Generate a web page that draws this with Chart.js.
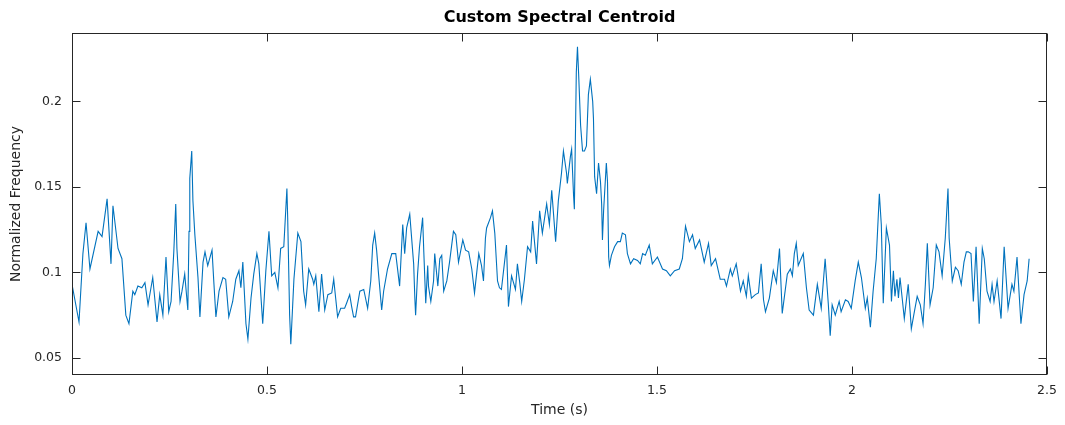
<!DOCTYPE html>
<html lang="en">
<head>
    <meta charset="utf-8">
    <title>Custom Spectral Centroid</title>
    <script src="https://cdn.jsdelivr.net/npm/chart.js"></script>
    <style>
        html, body { margin: 0; padding: 0; background: #fff; }
        #wrap { width: 1065px; height: 425px; }
    </style>
</head>
<body>
    <div id="wrap">
        <canvas id="centroidChart"></canvas>
    </div>

    <script>
        // time (s) and normalized centroid
        const times = [
            0, 0.018, 0.028, 0.036, 0.046, 0.067, 0.077, 0.090, 0.100, 0.105, 0.118, 0.128, 0.138, 0.146, 0.156, 0.161, 0.169, 0.179, 0.187, 0.195, 0.207,
            0.218, 0.225, 0.233, 0.241, 0.248, 0.254, 0.261, 0.266, 0.269, 0.277, 0.282, 0.289, 0.297, 0.300, 0.302, 0.307, 0.310, 0.315, 0.323, 0.328, 0.336, 0.341, 0.348, 0.359, 0.364, 0.369, 0.377, 0.387, 0.394, 0.402, 0.412,
            0.420, 0.428, 0.433, 0.438, 0.446, 0.451, 0.459, 0.466, 0.474, 0.479, 0.489, 0.497, 0.505, 0.512, 0.520, 0.528, 0.535, 0.543, 0.551, 0.553, 0.558, 0.561, 0.569, 0.579, 0.587, 0.594, 0.599, 0.607, 0.617, 0.620, 0.625, 0.633,
            0.640, 0.648, 0.656, 0.666, 0.671, 0.676, 0.681, 0.689, 0.699, 0.704, 0.712, 0.717, 0.722, 0.727, 0.738, 0.748, 0.758, 0.766, 0.771, 0.776, 0.781, 0.786, 0.794, 0.799, 0.809, 0.820, 0.830, 0.840, 0.848,
            0.853, 0.858, 0.866, 0.876, 0.879, 0.881, 0.886, 0.891, 0.899, 0.902, 0.907, 0.912, 0.914, 0.920, 0.927, 0.930, 0.938, 0.943, 0.948, 0.953, 0.961, 0.968, 0.978, 0.984, 0.991, 1.002, 1.009, 1.017, 1.025, 1.032, 1.043, 1.050, 1.055, 1.060,
            1.063, 1.073, 1.078, 1.084, 1.091, 1.096, 1.101, 1.112, 1.114, 1.117, 1.119, 1.127, 1.137, 1.142, 1.148, 1.153, 1.160, 1.168, 1.176, 1.181, 1.191, 1.199, 1.206, 1.217, 1.224, 1.230, 1.240, 1.247,
            1.255, 1.260, 1.268, 1.270, 1.278, 1.281, 1.286, 1.288, 1.291, 1.293, 1.296, 1.299, 1.304, 1.309, 1.314, 1.319, 1.324, 1.329, 1.335, 1.337, 1.340, 1.345, 1.350, 1.355, 1.358, 1.360, 1.363, 1.370, 1.373, 1.376, 1.378, 1.383, 1.391, 1.399, 1.406, 1.411, 1.419, 1.424, 1.432, 1.440, 1.450, 1.457, 1.463,
            1.470, 1.480, 1.488, 1.501, 1.514, 1.524, 1.534, 1.545, 1.557, 1.565, 1.573, 1.583, 1.591, 1.598, 1.609, 1.621, 1.632, 1.639, 1.650, 1.662, 1.673, 1.678,
            1.688, 1.693, 1.703, 1.714, 1.721, 1.729, 1.734, 1.742, 1.752, 1.760, 1.767, 1.773, 1.778, 1.788, 1.798, 1.806, 1.814, 1.821, 1.834, 1.842, 1.847, 1.852, 1.857, 1.862, 1.875, 1.883, 1.890,
            1.901, 1.911, 1.921, 1.931, 1.939, 1.944, 1.949, 1.957, 1.967, 1.972, 1.983, 1.990, 1.998, 2.008, 2.016, 2.024, 2.034, 2.039, 2.047, 2.054, 2.062, 2.070, 2.075, 2.080, 2.088, 2.096, 2.101,
            2.106, 2.110, 2.115, 2.119, 2.123, 2.134, 2.144, 2.152, 2.159, 2.167, 2.175, 2.182, 2.188, 2.193, 2.200, 2.208, 2.216, 2.223, 2.231, 2.239, 2.246, 2.249, 2.257, 2.265, 2.272, 2.280,
            2.287, 2.293, 2.298, 2.305, 2.311, 2.318, 2.326, 2.334, 2.339, 2.346, 2.354, 2.359, 2.364, 2.372, 2.382, 2.390, 2.400, 2.410, 2.415, 2.423, 2.428, 2.433, 2.441, 2.449, 2.454
        ];
        const centroid = [
            0.093, 0.071, 0.111, 0.129, 0.102, 0.124, 0.121, 0.143, 0.105, 0.139, 0.114, 0.108, 0.075, 0.070, 0.089, 0.087, 0.092, 0.091, 0.094, 0.081, 0.097,
            0.071, 0.087, 0.075, 0.109, 0.077, 0.083, 0.112, 0.140, 0.114, 0.083, 0.089, 0.099, 0.078, 0.124, 0.155, 0.171, 0.142, 0.122, 0.097, 0.074, 0.106, 0.112, 0.104, 0.113, 0.093, 0.074, 0.089, 0.097, 0.096, 0.074, 0.083,
            0.096, 0.101, 0.091, 0.106, 0.070, 0.061, 0.085, 0.099, 0.111, 0.105, 0.070, 0.101, 0.124, 0.098, 0.100, 0.091, 0.114, 0.115, 0.149, 0.132, 0.075, 0.058, 0.096, 0.123, 0.118, 0.089, 0.081, 0.102, 0.096, 0.093, 0.098, 0.077,
            0.099, 0.078, 0.087, 0.088, 0.096, 0.085, 0.074, 0.079, 0.079, 0.082, 0.087, 0.080, 0.074, 0.074, 0.089, 0.090, 0.079, 0.095, 0.116, 0.123, 0.113, 0.099, 0.078, 0.089, 0.102, 0.111, 0.111, 0.092, 0.128,
            0.111, 0.126, 0.134, 0.105, 0.085, 0.075, 0.099, 0.115, 0.132, 0.112, 0.082, 0.104, 0.092, 0.083, 0.095, 0.111, 0.092, 0.108, 0.110, 0.089, 0.095, 0.106, 0.124, 0.122, 0.106, 0.119, 0.113, 0.112, 0.102, 0.088, 0.111, 0.104, 0.095, 0.120,
            0.126, 0.132, 0.136, 0.123, 0.095, 0.091, 0.090, 0.112, 0.116, 0.095, 0.080, 0.098, 0.090, 0.105, 0.094, 0.083, 0.096, 0.115, 0.112, 0.130, 0.105, 0.136, 0.123, 0.140, 0.128, 0.148, 0.118, 0.142,
            0.158, 0.171, 0.158, 0.152, 0.168, 0.172, 0.145, 0.137, 0.184, 0.217, 0.232, 0.216, 0.186, 0.171, 0.171, 0.174, 0.204, 0.213, 0.200, 0.190, 0.156, 0.146, 0.164, 0.153, 0.140, 0.119, 0.136, 0.164, 0.153, 0.109, 0.104, 0.110, 0.115, 0.118, 0.118, 0.123, 0.122, 0.111, 0.105, 0.108, 0.107, 0.105, 0.111,
            0.110, 0.116, 0.105, 0.109, 0.102, 0.101, 0.098, 0.101, 0.102, 0.108, 0.127, 0.118, 0.122, 0.114, 0.119, 0.106, 0.117, 0.104, 0.108, 0.096, 0.096, 0.092,
            0.102, 0.098, 0.105, 0.089, 0.095, 0.086, 0.098, 0.085, 0.087, 0.088, 0.105, 0.084, 0.077, 0.085, 0.101, 0.094, 0.114, 0.076, 0.099, 0.102, 0.098, 0.111, 0.117, 0.104, 0.111, 0.091, 0.078,
            0.075, 0.093, 0.079, 0.108, 0.082, 0.063, 0.081, 0.075, 0.083, 0.077, 0.084, 0.083, 0.079, 0.095, 0.106, 0.097, 0.079, 0.085, 0.068, 0.089, 0.108, 0.146, 0.128, 0.082, 0.126, 0.116, 0.083,
            0.101, 0.086, 0.096, 0.085, 0.097, 0.073, 0.093, 0.067, 0.076, 0.086, 0.081, 0.070, 0.093, 0.117, 0.081, 0.091, 0.116, 0.112, 0.098, 0.120, 0.149, 0.120, 0.095, 0.103, 0.101, 0.093,
            0.106, 0.112, 0.112, 0.111, 0.083, 0.115, 0.070, 0.114, 0.108, 0.089, 0.083, 0.093, 0.083, 0.095, 0.073, 0.115, 0.079, 0.093, 0.089, 0.109, 0.089, 0.070, 0.087, 0.095, 0.108
        ];
        const xTicks = [0, 0.5, 1, 1.5, 2, 2.5];
        const yTicks = [0.05, 0.1, 0.15, 0.2];

        const axisColor = '#262626';
        const fontFamily = "'DejaVu Sans', sans-serif";

        // matlab style box with inward ticks on all four sides
        const boxPlugin = {
            id: 'boxPlugin',
            afterDatasetsDraw(chart) {
                const { ctx, chartArea: a, scales } = chart;
                const L = Math.round(a.left) + 0.5, R = Math.round(a.right) - 0.5;
                const T = Math.round(a.top) + 0.5, B = Math.round(a.bottom) - 0.5;
                const len = 8;
                ctx.save();
                ctx.strokeStyle = axisColor;
                ctx.lineWidth = 1;
                ctx.strokeRect(L, T, R - L, B - T);
                ctx.beginPath();
                scales.x.ticks.forEach(t => {
                    const px = Math.round(scales.x.getPixelForValue(t.value)) + 0.5;
                    ctx.moveTo(px, B); ctx.lineTo(px, B - len);
                    ctx.moveTo(px, T); ctx.lineTo(px, T + len);
                });
                scales.y.ticks.forEach(t => {
                    const py = Math.round(scales.y.getPixelForValue(t.value)) + 0.5;
                    ctx.moveTo(L, py); ctx.lineTo(L + len, py);
                    ctx.moveTo(R, py); ctx.lineTo(R - len, py);
                });
                ctx.stroke();
                ctx.restore();
            }
        };

        const ctx = document.getElementById('centroidChart').getContext('2d');
        const centroidChart = new Chart(ctx, {
            type: 'line',
            data: {
                datasets: [{
                    label: 'Spectral Centroid',
                    data: times.map((t, i) => ({ x: t, y: centroid[i] })),
                    borderColor: '#0072BD',
                    borderWidth: 1.1,
                    pointRadius: 0,
                    tension: 0,
                    fill: false
                }]
            },
            options: {
                responsive: true,
                maintainAspectRatio: false,
                animation: false,
                layout: { padding: { top: 0, right: 17, bottom: 0, left: 0 } },
                scales: {
                    x: {
                        type: 'linear',
                        min: 0,
                        max: 2.5,
                        afterFit: s => { s.height = 50; },
                        afterBuildTicks: s => { s.ticks = xTicks.map(v => ({ value: v })); },
                        grid: { display: false, drawTicks: false },
                        border: { display: false },
                        ticks: {
                            padding: 8,
                            color: axisColor,
                            font: { family: fontFamily, size: 12.5 },
                            callback: v => String(v)
                        },
                        title: {
                            display: true,
                            text: 'Time (s)',
                            color: axisColor,
                            font: { family: fontFamily, size: 14 },
                            padding: { top: 0, bottom: 6 }
                        }
                    },
                    y: {
                        type: 'linear',
                        min: 0.04,
                        max: 0.24,
                        afterFit: s => { s.width = 72; },
                        afterBuildTicks: s => { s.ticks = yTicks.map(v => ({ value: v })); },
                        grid: { display: false, drawTicks: false },
                        border: { display: false },
                        ticks: {
                            padding: 10,
                            color: axisColor,
                            font: { family: fontFamily, size: 12.5 },
                            callback: v => String(v)
                        },
                        title: {
                            display: true,
                            text: 'Normalized Frequency',
                            color: axisColor,
                            font: { family: fontFamily, size: 14 },
                            padding: { top: 8, bottom: 0 }
                        }
                    }
                },
                plugins: {
                    legend: { display: false },
                    tooltip: { enabled: false },
                    title: {
                        display: true,
                        text: 'Custom Spectral Centroid',
                        fullSize: false,
                        color: '#000',
                        font: { family: fontFamily, size: 16, weight: 'bold' },
                        padding: { top: 8, bottom: 5.8 }
                    }
                }
            },
            plugins: [boxPlugin]
        });
    </script>
</body>
</html>
